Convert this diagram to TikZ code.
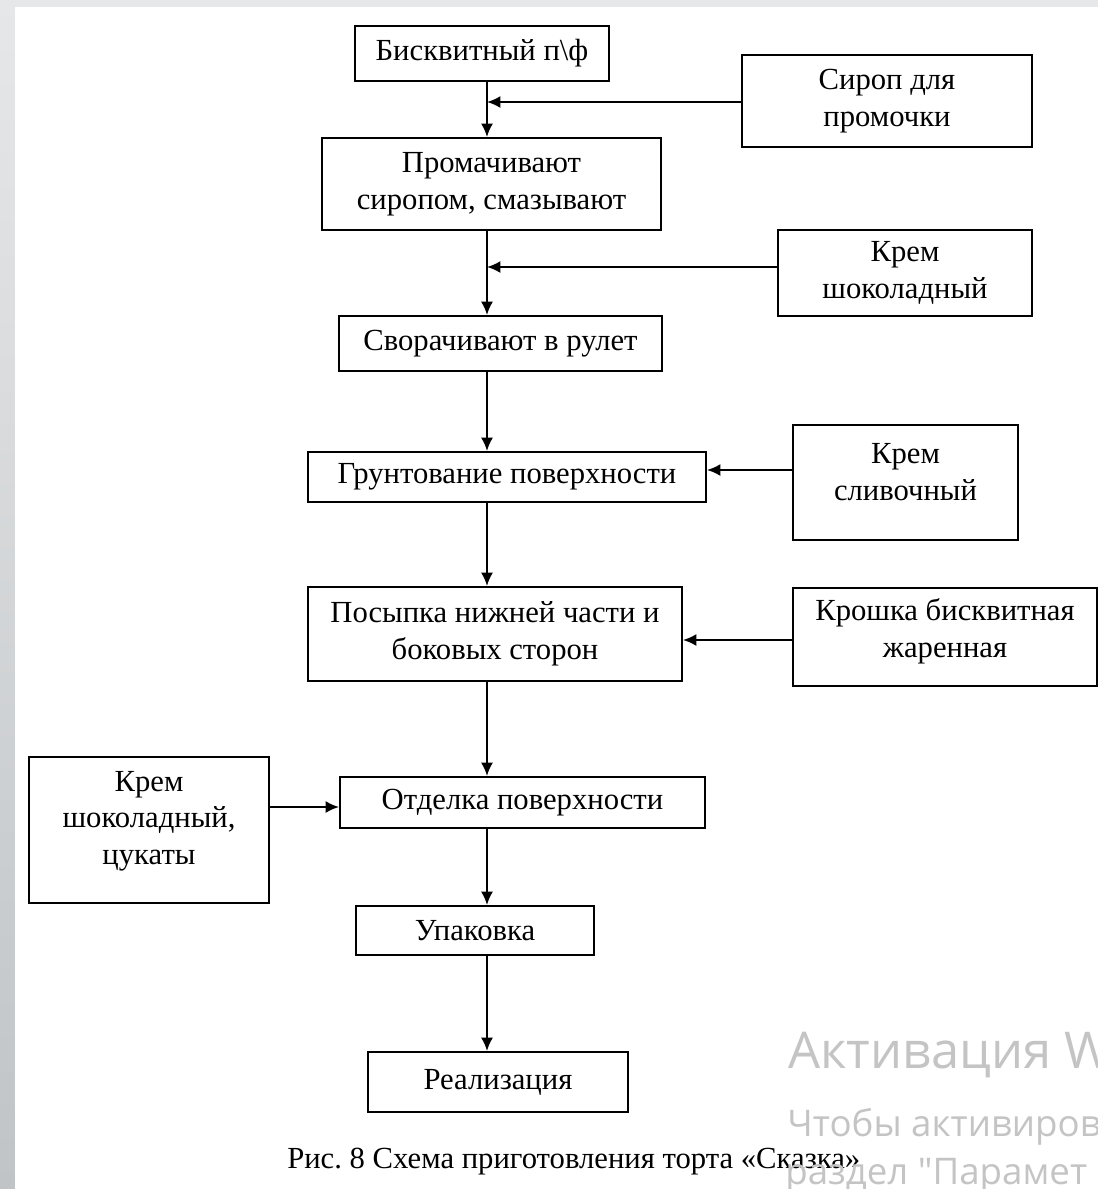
\documentclass[tikz,border=0pt]{standalone}
\usepackage{fontspec}
\setmainfont{Liberation Serif}
\newfontfamily\wmfont{Open Sans}
\usetikzlibrary{arrows.meta}
\definecolor{wm}{HTML}{C4C4C4}
\definecolor{bgtop}{HTML}{E6E7E8}
\definecolor{bgbot}{HTML}{C0C4C7}
\frenchspacing
\begin{document}
\begin{tikzpicture}[x=0.75pt,y=-0.75pt,
  box/.style={draw, line width=1.5pt, inner sep=0pt, align=center, font=\fontsize{23}{27.5}\selectfont},
  sz/.style 2 args={minimum width=#1*0.75pt, minimum height=#2*0.75pt},
  txt/.style={align=center, inner sep=0pt, font=\fontsize{23}{27.5}\selectfont},
  arr/.style={line width=1.5pt, -{Latex[length=10pt,width=9pt]}},
  wmtxt/.style={anchor=base west, inner sep=0pt, text=wm}]
\useasboundingbox (0,0) rectangle (1098,1189);
\shade[top color=bgtop, bottom color=bgbot] (0,0) rectangle (1098,1189);
\fill[white] (15,7) rectangle (1098,1189);

% main chain
\node[box, sz={254}{55}] (b1) at (482,53.5) {Бисквитный п\textbackslash ф};
\node[box, sz={339}{92}] (b2) at (491.5,184) {Промачивают\\сиропом, смазывают};
\node[box, sz={323}{55}] (b3) at (500.5,343.5) {Сворачивают в рулет};
\node[box, sz={398}{50}] (b4) at (507,477) {Грунтование поверхности};
\node[box, sz={374}{94}] (b5) at (495,634) {Посыпка нижней части и\\боковых сторон};
\node[box, sz={365}{51}] (b6) at (522.5,802.5) {Отделка поверхности};
\node[box, sz={238}{49}] (b7) at (475,930.5) {Упаковка};
\node[box, sz={260}{60}] (b8) at (498,1082) {Реализация};

% side inputs
\node[box, sz={290}{92}] (syr) at (887,101) {Сироп для\\промочки};
\node[box, sz={254}{86}] (ks) at (905,273) {Крем\\шоколадный};
\node[box, sz={225}{115}] (ksl) at (905.5,482.5) {};
\node[txt] (ksl-t) at (905.5,472) {Крем\\сливочный};
\node[box, sz={304}{98}] (kr) at (945,637) {};
\node[txt] (kr-t) at (945,631) {Крошка бисквитная\\жаренная};
\node[box, sz={240}{146}] (lf) at (149,830) {};
\node[txt] (lf-t) at (149,821) {Крем\\шоколадный,\\цукаты};

% axis and junction levels
\coordinate (ax) at (487,0);
\coordinate (y1) at (0,102);
\coordinate (y2) at (0,267);
\coordinate (y3) at (0,470);
\coordinate (y4) at (0,640);
\coordinate (y5) at (0,807);

% vertical flow
\draw[arr] (b1.south -| ax) -- (b2.north -| ax);
\draw[arr] (b2.south -| ax) -- (b3.north -| ax);
\draw[arr] (b3.south -| ax) -- (b4.north -| ax);
\draw[arr] (b4.south -| ax) -- (b5.north -| ax);
\draw[arr] (b5.south -| ax) -- (b6.north -| ax);
\draw[arr] (b6.south -| ax) -- (b7.north -| ax);
\draw[arr] (b7.south -| ax) -- (b8.north -| ax);

% side arrows
\draw[arr] (syr.west |- y1) -- (ax |- y1);
\draw[arr] (ks.west |- y2) -- (ax |- y2);
\draw[arr] (ksl.west |- y3) -- (b4.east |- y3);
\draw[arr] (kr.west |- y4) -- (b5.east |- y4);
\draw[arr] (lf.east |- y5) -- (b6.west |- y5);

% caption
\node[txt, anchor=base west] (cap) at (287,1168) {Рис. 8 Схема приготовления торта «Сказка»};

% watermark
\node[wmtxt, font=\wmfont\fontsize{38}{38}\selectfont] (wm1) at (788,1068) {Активация W};
\node[wmtxt, font=\wmfont\fontsize{27.5}{27.5}\selectfont] (wm2) at (787,1136) {Чтобы активиров};
\node[wmtxt, font=\wmfont\fontsize{27.5}{27.5}\selectfont] (wm3) at (785,1184) {раздел "Парамет};
\end{tikzpicture}
\end{document}
